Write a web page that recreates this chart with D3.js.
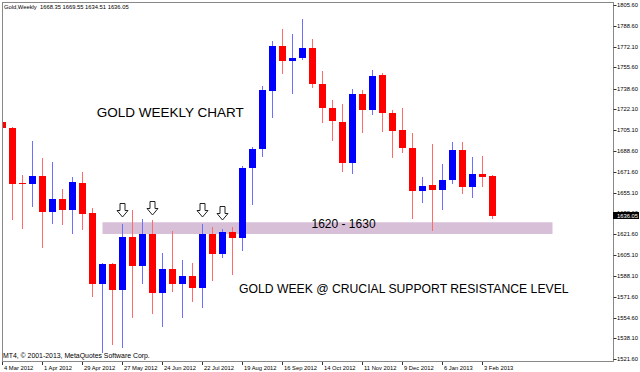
<!DOCTYPE html>
<html lang="en">
<head>
<meta charset="UTF-8">
<title>Gold Weekly</title>
<style>
  body { margin: 0; padding: 0; background: #fff; }
  svg { display: block; }
  text { font-family: "Liberation Sans", Arial, sans-serif; }
</style>
</head>
<body>
<svg id="chart"></svg>
<script src="https://cdn.jsdelivr.net/npm/d3@7/dist/d3.min.js"></script>
<script>
// weekly bars, 4 Mar 2012 .. 10 Feb 2013
const opens  = [1711.7, 1706.9, 1662.8, 1662.0, 1668.4, 1639.5, 1650.0, 1641.1, 1662.8, 1638.7,
                1581.8, 1597.8, 1577.0, 1619.5, 1596.2, 1621.9, 1574.6, 1593.8, 1581.8, 1588.2,
                1578.6, 1621.9, 1605.8, 1623.5, 1618.7, 1674.8, 1690.1, 1736.6, 1772.7, 1760.7,
                1763.1, 1771.1, 1742.2, 1723.0, 1711.7, 1678.8, 1734.2, 1721.4, 1749.4, 1719.0,
                1705.3, 1690.9, 1656.4, 1661.2, 1657.2, 1665.2, 1689.3, 1659.6, 1670.0, 1668.35];
const highs  = [1715.8, 1707.7, 1669.2, 1696.5, 1682.9, 1679.7, 1658.0, 1667.6, 1671.6, 1642.7,
                1598.6, 1598.6, 1629.9, 1641.1, 1633.9, 1633.1, 1606.6, 1624.3, 1601.0, 1598.6,
                1629.9, 1627.5, 1625.9, 1627.5, 1676.4, 1691.7, 1740.6, 1776.7, 1786.3, 1782.3,
                1794.4, 1778.3, 1752.7, 1729.4, 1726.2, 1738.2, 1737.4, 1753.5, 1751.1, 1721.4,
                1723.0, 1702.9, 1667.6, 1694.1, 1678.0, 1695.7, 1695.7, 1683.7, 1684.5, 1669.55];
const lows   = [1662.8, 1633.9, 1626.7, 1644.4, 1611.5, 1630.7, 1629.9, 1622.7, 1625.9, 1572.1,
                1527.2, 1533.6, 1531.2, 1555.3, 1582.6, 1558.5, 1548.1, 1576.2, 1555.3, 1568.1,
                1563.3, 1585.0, 1603.4, 1589.8, 1609.1, 1646.0, 1684.5, 1715.8, 1751.0, 1735.0,
                1762.3, 1739.8, 1711.7, 1697.3, 1672.4, 1670.8, 1703.7, 1718.2, 1704.5, 1683.7,
                1687.7, 1634.7, 1647.6, 1625.1, 1641.9, 1662.8, 1654.8, 1651.6, 1660.4, 1634.51];
const closes = [1706.9, 1662.0, 1661.6, 1668.4, 1639.5, 1650.0, 1641.1, 1663.6, 1637.9, 1581.8,
                1597.8, 1577.0, 1619.5, 1596.2, 1621.9, 1574.6, 1593.8, 1581.8, 1588.2, 1578.6,
                1621.9, 1605.8, 1623.5, 1618.7, 1674.8, 1690.1, 1737.4, 1772.7, 1760.7, 1763.1,
                1771.1, 1742.2, 1723.0, 1712.5, 1678.8, 1734.2, 1721.4, 1748.6, 1719.0, 1704.5,
                1690.9, 1656.4, 1660.4, 1657.2, 1665.2, 1689.3, 1659.6, 1670.0, 1667.6, 1636.05];

const dateLabels = ["4 Mar 2012", "1 Apr 2012", "29 Apr 2012", "27 May 2012", "24 Jun 2012",
                    "22 Jul 2012", "19 Aug 2012", "16 Sep 2012", "14 Oct 2012", "11 Nov 2012",
                    "9 Dec 2012", "6 Jan 2013", "3 Feb 2013"];
const dateBars = [0, 4, 8, 12, 16, 20, 24, 28, 32, 36, 40, 44, 48];

const priceTicks = ["1805.60", "1788.60", "1772.10", "1755.60", "1738.60", "1722.10", "1705.10",
                    "1688.60", "1671.60", "1655.10", "1638.60", "1621.60", "1605.10", "1588.10",
                    "1571.60", "1554.60", "1538.10", "1521.60"];

// chart objects: down arrows, support zone, text notes
const arrowBars = [12, 15, 20, 22];
const arrowPrices = [1634.7, 1636.7, 1635.0, 1632.7];
const zoneBars = [10, 55];
const zonePrices = [1621.9, 1631.3];
const noteTexts = ["GOLD WEEKLY CHART", "GOLD WEEK @ CRUCIAL SUPPORT RESISTANCE LEVEL", "1620 - 1630"];
const noteBars = [9.42, 23.65, 30.9];
const notePrices = [1720.0, 1578.3, 1630.5];
const noteSizes = [13.5, 12.2, 12];

const width = 640, height = 372;
const plot = { left: 2, top: 2, right: 613, bottom: 361 };

const svg = d3.select("#chart").attr("width", width).attr("height", height);

const x = d3.scaleLinear().domain([0, 61]).range([2.5, 612.5]);
const y = d3.scaleLinear().domain([1521.6, 1805.6]).range([359, 5]);

svg.append("defs").append("clipPath").attr("id", "plotclip")
  .append("rect")
  .attr("x", plot.left).attr("y", plot.top)
  .attr("width", plot.right - plot.left).attr("height", plot.bottom - plot.top);

const g = svg.append("g").attr("clip-path", "url(#plotclip)");

// support zone (drawn behind bars)
g.append("rect")
  .attr("x", x(zoneBars[0]))
  .attr("y", y(zonePrices[1]))
  .attr("width", x(zoneBars[1]) - x(zoneBars[0]))
  .attr("height", y(zonePrices[0]) - y(zonePrices[1]))
  .attr("fill", "#d8bfd8");

const bars = opens.map((o, i) => ({ i, o, h: highs[i], l: lows[i], c: closes[i] }));

const candle = g.append("g").selectAll("g").data(bars).join("g");

candle.append("line")
  .attr("x1", d => x(d.i)).attr("x2", d => x(d.i))
  .attr("y1", d => Math.round(y(d.h)))
  .attr("y2", d => Math.round(y(d.l)) + 1)
  .attr("stroke", d => d.c >= d.o ? "#6f6fff" : "#ff6a6a")
  .attr("stroke-width", 1);

candle.append("rect")
  .attr("x", d => Math.round(x(d.i) - 3.5))
  .attr("width", 7)
  .attr("y", d => Math.round(y(Math.max(d.o, d.c))))
  .attr("height", d => Math.max(1, Math.round(Math.abs(y(d.o) - y(d.c)))))
  .attr("fill", d => d.c >= d.o ? "#0000ff" : "#ff0000");

// hollow down arrows
const arrowPath = "M-2.5,-14.5 L2.5,-14.5 L2.5,-7.5 L5.5,-7.5 L0,-1 L-5.5,-7.5 L-2.5,-7.5 Z";
g.append("g").selectAll("path")
  .data(arrowBars.map((b, k) => ({ b, p: arrowPrices[k] })))
  .join("path")
  .attr("d", arrowPath)
  .attr("transform", d => `translate(${x(d.b)},${Math.round(y(d.p))})`)
  .attr("fill", "#fff")
  .attr("stroke", "#222")
  .attr("stroke-width", 1);

// text notes
g.append("g").selectAll("text")
  .data(noteTexts.map((t, k) => ({ t, b: noteBars[k], p: notePrices[k], s: noteSizes[k] })))
  .join("text")
  .attr("x", d => x(d.b))
  .attr("y", d => y(d.p))
  .attr("dy", "0.36em")
  .attr("font-size", d => d.s)
  .attr("fill", "#000")
  .text(d => d.t);

// header and copyright
const last = bars[bars.length - 1];
g.append("text")
  .attr("x", 4).attr("y", 9)
  .attr("font-size", 5.8).attr("fill", "#000")
  .attr("xml:space", "preserve")
  .text(`Gold,Weekly  ${last.o.toFixed(2)} ${last.h.toFixed(2)} ${last.l.toFixed(2)} ${last.c.toFixed(2)}`);

g.append("text")
  .attr("x", 3).attr("y", 358)
  .attr("font-size", 6.9).attr("fill", "#000")
  .text("MT4, \u00a9 2001-2013, MetaQuotes Software Corp.");

// frame
svg.append("rect")
  .attr("x", plot.left + 0.5).attr("y", plot.top + 0.5)
  .attr("width", plot.right - plot.left).attr("height", plot.bottom - plot.top)
  .attr("fill", "none").attr("stroke", "#888");

// price axis
const yAxis = svg.append("g");
yAxis.selectAll("line").data(priceTicks).join("line")
  .attr("x1", plot.right + 0.5).attr("x2", plot.right + 3.5)
  .attr("y1", d => Math.round(y(+d)) + 0.5).attr("y2", d => Math.round(y(+d)) + 0.5)
  .attr("stroke", "#333");
yAxis.selectAll("text").data(priceTicks).join("text")
  .attr("x", plot.right + 4)
  .attr("y", d => y(+d))
  .attr("dy", "0.35em")
  .attr("font-size", 5.8).attr("fill", "#000")
  .text(d => d);

// last price tag
const tagY = y(last.c);
svg.append("rect")
  .attr("x", plot.right).attr("y", Math.round(tagY) - 4)
  .attr("width", 26).attr("height", 7)
  .attr("fill", "#000");
svg.append("text")
  .attr("x", plot.right + 4).attr("y", tagY - 0.5)
  .attr("dy", "0.35em")
  .attr("font-size", 5.8).attr("fill", "#fff")
  .text(last.c.toFixed(2));

// time axis
const xAxis = svg.append("g");
xAxis.selectAll("line").data(dateBars).join("line")
  .attr("x1", d => x(d)).attr("x2", d => x(d))
  .attr("y1", plot.bottom + 1).attr("y2", plot.bottom + 4)
  .attr("stroke", "#333");
xAxis.selectAll("text").data(dateBars).join("text")
  .attr("x", d => x(d) + 1.5)
  .attr("y", 369.5)
  .attr("font-size", 5.8).attr("fill", "#000")
  .text((d, k) => dateLabels[k]);
</script>
</body>
</html>
